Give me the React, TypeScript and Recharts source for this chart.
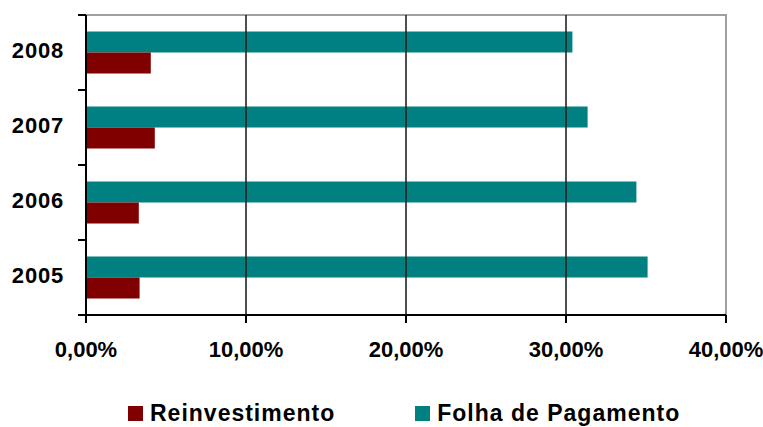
import { BarChart, Bar, XAxis, YAxis, Legend, ReferenceLine, ReferenceArea } from 'recharts';

const years = ['2008', '2007', '2006', '2005'];
const folha = [30.4, 31.35, 34.4, 35.1];
const reinvest = [4.05, 4.3, 3.3, 3.35];
const xTicks = [0, 10, 20, 30, 40];
const gridTicks = [10, 20, 30];

const data = years.map((year, i) => ({ year, folha: folha[i], reinvest: reinvest[i] }));

const TEAL = '#008080';
const RED = '#800000';
const font = 'Arial, "Liberation Sans", sans-serif';

const fmt = (v: number) => v.toFixed(2).replace('.', ',') + '%';

// year label plus tick marks on the band edges (Excel style)
const YearTick = (props: any) => {
  const { x, y, payload } = props;
  const half = payload?.offset ?? 0;
  return (
    <g>
      <text
        x={x - 22}
        y={y - 2}
        dy="0.355em"
        textAnchor="end"
        fill="#000"
        fontFamily={font}
        fontWeight="bold"
        fontSize={22}
        letterSpacing={0.8}
      >
        {payload.value}
      </text>
      <line x1={x - 8} x2={x} y1={y - half} y2={y - half} stroke="#000" strokeWidth={2} />
      <line x1={x - 8} x2={x} y1={y + half} y2={y + half} stroke="#000" strokeWidth={2} />
    </g>
  );
};

const LegendBox = () => (
  <div
    style={{
      display: 'flex',
      fontFamily: font,
      fontWeight: 'bold',
      fontSize: 23,
      letterSpacing: 1,
      color: '#000',
      height: 30,
      alignItems: 'center',
    }}
  >
    <div style={{ display: 'flex', alignItems: 'center', marginLeft: 128 }}>
      <span style={{ width: 15, height: 15, background: RED, marginRight: 7 }} />
      Reinvestimento
    </div>
    <div style={{ display: 'flex', alignItems: 'center', marginLeft: 80 }}>
      <span style={{ width: 15, height: 15, background: TEAL, marginRight: 7 }} />
      Folha de Pagamento
    </div>
  </div>
);

const App = () => {
  return (
    <div style={{ position: 'absolute', left: 0, top: 0, background: '#fff' }}>
      <BarChart
        width={763}
        height={427}
        data={data}
        layout="vertical"
        margin={{ top: 15, right: 37, left: 0, bottom: 22 }}
        barCategoryGap="22%"
        barGap={0}
      >
        <ReferenceArea x1={0} x2={40} fill="none" stroke="#a0a0a0" strokeWidth={2} ifOverflow="extendDomain" />
        {gridTicks.map((t) => (
          <ReferenceLine key={t} x={t} stroke="#222" strokeWidth={1.6} />
        ))}
        <XAxis
          type="number"
          domain={[0, 40]}
          ticks={xTicks}
          tickFormatter={fmt}
          height={60}
          axisLine={{ stroke: '#000', strokeWidth: 2 }}
          tickLine={{ stroke: '#000', strokeWidth: 2 }}
          tickSize={8}
          tickMargin={18}
          tick={{ fill: '#000', fontFamily: font, fontWeight: 'bold', fontSize: 22 }}
        />
        <YAxis
          type="category"
          dataKey="year"
          width={86}
          axisLine={{ stroke: '#000', strokeWidth: 2 }}
          tickLine={false}
          tickSize={0}
          tickMargin={0}
          tick={<YearTick />}
        />
        <Bar dataKey="folha" name="Folha de Pagamento" fill={TEAL} isAnimationActive={false} />
        <Bar dataKey="reinvest" name="Reinvestimento" fill={RED} isAnimationActive={false} />
        <Legend
          verticalAlign="bottom"
          content={() => <LegendBox />}
          wrapperStyle={{ position: 'absolute', left: 0, top: 398, width: 763, height: 30 }}
        />
      </BarChart>
    </div>
  );
};

export default App;
